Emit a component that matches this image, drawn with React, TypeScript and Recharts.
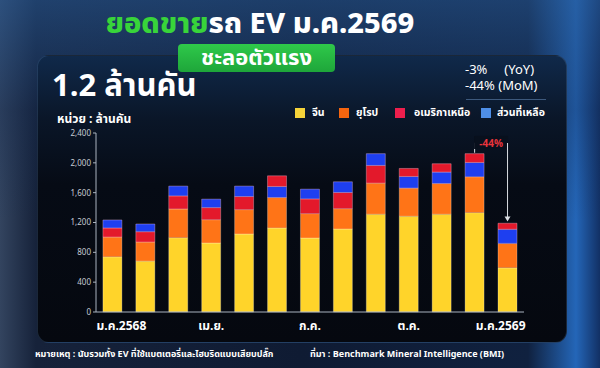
import React from 'react'
import { BarChart, Bar, XAxis, YAxis, ReferenceLine, ReferenceDot } from 'recharts'

const months = ['ม.ค.2568', 'ก.พ.', 'มี.ค.', 'เม.ย.', 'พ.ค.', 'มิ.ย.', 'ก.ค.', 'ส.ค.', 'ก.ย.', 'ต.ค.', 'พ.ย.', 'ธ.ค.', 'ม.ค.2569']
const china = [740, 682, 996, 925, 1046, 1127, 992, 1113, 1311, 1284, 1311, 1332, 592]
const europe = [265, 256, 386, 313, 327, 408, 327, 273, 417, 377, 412, 481, 328]
const northAmerica = [122, 139, 175, 162, 175, 143, 198, 216, 237, 108, 112, 118, 81]
const rest = [107, 103, 131, 113, 140, 148, 130, 144, 158, 156, 153, 192, 189]
// in some months the source stacks North America above "rest"
const naOnTop = [false, false, false, false, false, true, false, false, false, true, true, true, true]
const yTicks = [0, 400, 800, 1200, 1600, 2000, 2400]

const data = months.map((m, i) => ({
  month: m,
  china: china[i],
  europe: europe[i],
  naLow: naOnTop[i] ? 0 : northAmerica[i],
  rest: rest[i],
  naHigh: naOnTop[i] ? northAmerica[i] : 0,
}))

const YELLOW = '#ffd42a'
const ORANGE = '#ff7417'
const RED = '#e3192b'
const BLUE = '#1e3ff0'
const FONT = '"Noto Sans Thai", "Noto Sans", Lato, sans-serif'

const legendItems = [
  { label: 'จีน', color: '#f5d33a', box: 295, text: 312 },
  { label: 'ยุโรป', color: '#f5650f', box: 339, text: 356 },
  { label: 'อเมริกาเหนือ', color: '#ee1f4d', box: 395, text: 414 },
  { label: 'ส่วนที่เหลือ', color: '#4e8ee6', box: 481, text: 497 },
]

const pctLabel = (props: any) => {
  const { viewBox } = props
  const cx = viewBox.x + viewBox.width / 2
  const cy = viewBox.y
  return (
    <g>
      <rect x={cx - 17} y={cy - 7} width={34} height={13} fill="#08101d" />
      <text x={cx} y={cy + 4} textAnchor="middle" fill="#e8343c" fontSize={10} fontWeight={700} fontFamily={FONT}>
        -44%
      </text>
    </g>
  )
}

const arrowHead = (props: any) => {
  const { cx, cy } = props
  return <path d={`M${cx - 3},${cy - 5} L${cx + 3},${cy - 5} L${cx},${cy} Z`} fill="#d9dde3" />
}

const MonthTick = (props: any) => {
  const { x, y, payload, index } = props
  const last = payload.value === months[months.length - 1]
  const first = index === 0
  const anchor = first ? 'start' : last ? 'end' : 'middle'
  const dx = first ? -16 : last ? 18 : 0
  return (
    <text x={x + dx} y={y + 10} textAnchor={anchor} fill="#fff" fontSize={12} fontWeight={700} fontFamily={FONT}>
      {payload.value}
    </text>
  )
}

export default function App() {
  return (
    <div
      style={{
        position: 'absolute',
        left: 0,
        top: 0,
        width: 600,
        height: 368,
        overflow: 'hidden',
        fontFamily: FONT,
        background: 'linear-gradient(90deg, #33445f 0%, #16223a 6%, #0f1b33 50%, #10213f 88%, #2466b8 96%, #123064 100%)',
      }}
    >
      <div
        style={{
          position: 'absolute',
          left: 0,
          top: 0,
          width: 600,
          height: 368,
          background: 'linear-gradient(180deg, rgba(40,90,150,0.55) 0%, rgba(20,45,85,0.3) 30%, rgba(10,20,40,0) 60%)',
        }}
      />
      <div
        style={{
          position: 'absolute',
          left: 37,
          top: 55,
          width: 530,
          height: 288,
          borderRadius: 12,
          background: 'linear-gradient(180deg, #10294a 0%, #0a1628 22%, #060b15 45%, #05080f 100%)',
          border: '1px solid rgba(90,130,180,0.25)',
          boxSizing: 'border-box',
        }}
      />
      <div
        style={{
          position: 'absolute',
          left: 0,
          width: 520,
          top: 10,
          textAlign: 'center',
          fontSize: 29,
          fontWeight: 800,
          lineHeight: '28px',
          color: '#fff',
          whiteSpace: 'nowrap',
        }}
      >
        <span style={{ color: '#38d43a' }}>ยอดขาย</span>รถ EV ม.ค.2569
      </div>
      <div
        style={{
          position: 'absolute',
          left: 178,
          top: 44,
          width: 157,
          height: 28,
          borderRadius: 4,
          background: 'linear-gradient(180deg, #2fc94a 0%, #1ea63a 100%)',
          color: '#fff',
          fontSize: 22,
          fontWeight: 700,
          lineHeight: '29px',
          textAlign: 'center',
        }}
      >
        ชะลอตัวแรง
      </div>
      <div style={{ position: 'absolute', left: 52, top: 72, fontSize: 31, fontWeight: 700, color: '#fff', lineHeight: '30px', whiteSpace: 'nowrap' }}>
        1.2 ล้านคัน
      </div>
      <div style={{ position: 'absolute', left: 57, top: 112, fontSize: 12, fontWeight: 700, color: '#fff', lineHeight: '14px', whiteSpace: 'nowrap' }}>
        หน่วย : ล้านคัน
      </div>
      <div style={{ position: 'absolute', left: 465, top: 62, fontSize: 13, color: '#fff', lineHeight: '16px', whiteSpace: 'pre' }}>
        {'-3%     (YoY)\n-44% (MoM)'}
      </div>
      <div style={{ position: 'absolute', left: 466, top: 99, width: 80, height: 1, background: 'rgba(110,150,200,0.5)' }} />
      {legendItems.map((it) => (
        <React.Fragment key={it.label}>
          <span style={{ position: 'absolute', left: it.box, top: 108, width: 10, height: 10, background: it.color }} />
          <span style={{ position: 'absolute', left: it.text, top: 105, fontSize: 10.5, fontWeight: 700, color: '#fff', lineHeight: '16px', whiteSpace: 'nowrap' }}>
            {it.label}
          </span>
        </React.Fragment>
      ))}
      <div style={{ position: 'absolute', left: 0, top: 0 }}>
        <BarChart
          width={600}
          height={368}
          data={data}
          margin={{ top: 133, right: 76, left: 56, bottom: 26 }}
          barCategoryGap="21%"
        >
          <XAxis
            dataKey="month"
            interval={2}
            tickLine={false}
            axisLine={{ stroke: '#aab3bf' }}
            tick={<MonthTick />}
            height={30}
          />
          <YAxis
            domain={[0, 2400]}
            ticks={yTicks}
            width={40}
            tickSize={3}
            tickLine={{ stroke: '#aab3bf' }}
            axisLine={{ stroke: '#aab3bf' }}
            tick={{ fill: '#c7ccd4', fontSize: 8, fontFamily: FONT }}
            tickFormatter={(v: number) => v.toLocaleString('en-US')}
          />
          <Bar dataKey="china" stackId="a" fill={YELLOW} stroke="rgba(255,255,255,0.25)" isAnimationActive={false} />
          <Bar dataKey="europe" stackId="a" fill={ORANGE} stroke="rgba(255,255,255,0.25)" isAnimationActive={false} />
          <Bar dataKey="naLow" stackId="a" fill={RED} stroke="rgba(255,200,220,0.35)" isAnimationActive={false} />
          <Bar dataKey="rest" stackId="a" fill={BLUE} stroke="rgba(255,200,220,0.35)" isAnimationActive={false} />
          <Bar dataKey="naHigh" stackId="a" fill={RED} stroke="rgba(255,200,220,0.35)" isAnimationActive={false} />
          <ReferenceLine
            segment={[{ x: 'ธ.ค.', y: 2135 }, { x: 'ธ.ค.', y: 2266 }]}
            stroke="#d9dde3"
            ifOverflow="visible"
          />
          <ReferenceLine
            segment={[{ x: 'ธ.ค.', y: 2266 }, { x: 'ม.ค.2569', y: 2266 }]}
            stroke="#d9dde3"
            ifOverflow="visible"
            label={pctLabel}
          />
          <ReferenceLine
            segment={[{ x: 'ม.ค.2569', y: 2266 }, { x: 'ม.ค.2569', y: 1230 }]}
            stroke="#d9dde3"
            ifOverflow="visible"
          />
          <ReferenceDot x="ม.ค.2569" y={1215} ifOverflow="visible" shape={arrowHead} />
        </BarChart>
      </div>
      <div style={{ position: 'absolute', left: 35, top: 347, fontSize: 9, fontWeight: 700, color: '#fff', whiteSpace: 'nowrap' }}>
        หมายเหตุ : นับรวมทั้ง EV ที่ใช้แบตเตอรี่และไฮบริดแบบเสียบปลั๊ก
      </div>
      <div style={{ position: 'absolute', left: 310, top: 347, fontSize: 9, fontWeight: 700, color: '#fff', whiteSpace: 'nowrap' }}>
        ที่มา : Benchmark Mineral Intelligence (BMI)
      </div>
    </div>
  )
}
